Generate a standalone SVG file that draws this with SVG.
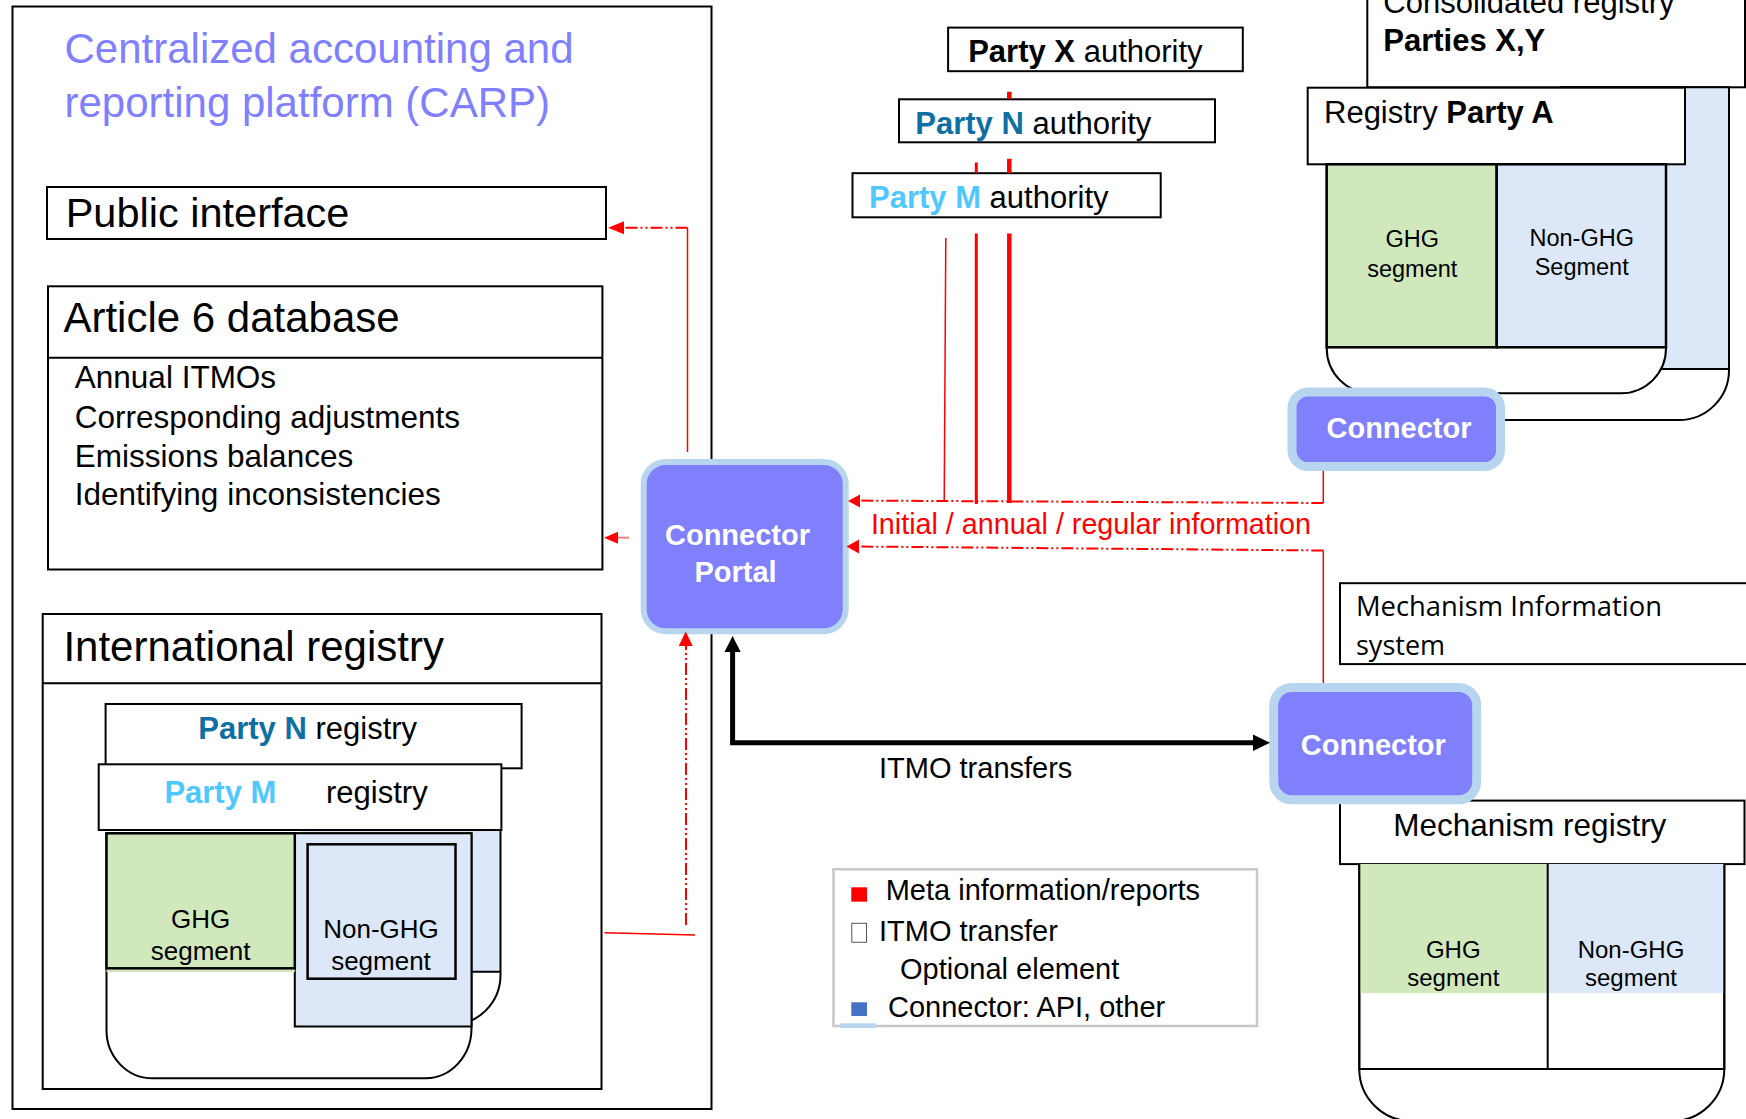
<svg xmlns="http://www.w3.org/2000/svg" width="1746" height="1119" viewBox="0 0 1746 1119">
<defs>
<style>
.box{fill:#fff;stroke:#000;stroke-width:2}
.t{font-family:"Liberation Sans",Arial,sans-serif;fill:#000}
.b{font-weight:bold}
.mid{text-anchor:middle}
.grn{fill:#d1e8bd}
.blu{fill:#dce8f7}
.ln{fill:none;stroke:#000;stroke-width:2}
.conn{fill:#8080fc;stroke:#b8d5f0}
.ct{font-family:"Liberation Sans",Arial,sans-serif;font-weight:bold;fill:#fff;font-size:29px;text-anchor:middle}
.red{stroke:#f00;fill:none}
.dd{stroke-dasharray:12 3 2 3 2 3}
.ah{fill:#f00}
.pn{fill:#0f6fa3;font-weight:bold}
.pm{fill:#50c8ff;font-weight:bold}
</style>
</defs>
<rect width="1746" height="1119" fill="#fff"/>

<g id="carp">
<rect class="box" x="12.5" y="6.5" width="699" height="1102.5"/>
<text class="t" x="64.5" y="63" font-size="42" style="fill:#8080ff">Centralized accounting and</text>
<text class="t" x="64.5" y="116.5" font-size="42" style="fill:#8080ff">reporting platform (CARP)</text>
</g>

<g id="public-interface">
<rect class="box" x="47" y="187" width="559" height="52"/>
<text class="t" x="65.7" y="226.6" font-size="41.5">Public interface</text>
</g>

<g id="article6-database">
<rect class="box" x="48" y="286.3" width="554.4" height="283.2"/>
<line class="ln" x1="48" y1="357.8" x2="602.4" y2="357.8"/>
<text class="t" x="63.4" y="332" font-size="42">Article 6 database</text>
<text class="t" x="74.8" y="388.4" font-size="31.5">Annual ITMOs</text>
<text class="t" x="74.8" y="427.9" font-size="31.5">Corresponding adjustments</text>
<text class="t" x="74.8" y="466.9" font-size="31.5">Emissions balances</text>
<text class="t" x="74.8" y="505" font-size="31.5">Identifying inconsistencies</text>
</g>

<g id="international-registry">
<rect class="box" x="42.7" y="614" width="558.8" height="475"/>
<line class="ln" x1="42.7" y1="683.3" x2="601.5" y2="683.3"/>
<text class="t" x="63.4" y="660.7" font-size="42">International registry</text>
</g>

<g id="party-n-registry">
<rect class="box" x="105.6" y="704" width="416" height="64.3"/>
<text class="t" x="198.3" y="739.3" font-size="31"><tspan class="pn">Party N</tspan> registry</text>
<rect class="blu" x="300" y="830" width="200.5" height="141.7"/>
<path class="ln" d="M500.5,830 V975 A50,50 0 0 1 450.5,1025"/>
<line class="ln" x1="460" y1="971.7" x2="500.5" y2="971.7"/>
</g>

<g id="party-m-registry">
<rect class="box" x="98.7" y="764.3" width="402.7" height="65.7"/>
<text class="t" x="164.4" y="803.3" font-size="31"><tspan class="pm">Party M</tspan></text>
<text class="t" x="326" y="803.3" font-size="31">registry</text>
<path class="box" d="M106.5,833.3 V1030 A46,48 0 0 0 152.5,1078.3 H425.5 A46,50 0 0 0 471.5,1028.3 V833.3 Z"/>
<rect class="blu" x="294.8" y="833.3" width="176.7" height="193.2" stroke="#000" stroke-width="2"/>
<rect x="307.6" y="844.3" width="147.9" height="134.4" fill="none" stroke="#000" stroke-width="2.5"/>
<rect class="grn" x="106.5" y="969" width="188.3" height="3"/>
<rect class="grn" x="106.5" y="833.3" width="188.3" height="135" stroke="#000" stroke-width="2.5"/>
<text class="t mid" x="200.6" y="928.3" font-size="26">GHG</text>
<text class="t mid" x="200.6" y="960" font-size="26">segment</text>
<text class="t mid" x="381" y="938.3" font-size="26">Non-GHG</text>
<text class="t mid" x="381" y="970" font-size="26">segment</text>
</g>

<g id="party-x-authority">
<rect class="box" x="948.1" y="27.6" width="294.7" height="43.6"/>
<text class="t" x="968.2" y="62.4" font-size="31"><tspan class="b">Party X</tspan> authority</text>
</g>
<g id="party-n-authority">
<rect class="box" x="899" y="99.3" width="316" height="43"/>
<text class="t" x="915.3" y="134" font-size="31"><tspan class="pn">Party N</tspan> authority</text>
</g>
<g id="party-m-authority">
<rect class="box" x="852.5" y="173.2" width="308.2" height="44.1"/>
<text class="t" x="869" y="208.3" font-size="31"><tspan class="pm">Party M</tspan> authority</text>
</g>

<g id="consolidated-registry">
<rect class="box" x="1367.3" y="-20" width="377.7" height="107.3"/>
<text class="t" x="1383.3" y="13" font-size="31">Consolidated registry</text>
<text class="t b" x="1383.3" y="50.7" font-size="31">Parties X,Y</text>
<rect class="blu" x="1560" y="87.3" width="169" height="281.7"/>
<path class="ln" d="M1560,87.3 H1729 V370 A50,50 0 0 1 1679,420 H1480"/>
<line class="ln" x1="1640" y1="369" x2="1729" y2="369"/>
</g>

<g id="registry-party-a">
<rect class="box" x="1307.7" y="87.7" width="377.3" height="76.6"/>
<text class="t" x="1324" y="123.3" font-size="31">Registry <tspan class="b">Party A</tspan></text>
<path class="box" d="M1326.7,164.3 V348.3 A45,45 0 0 0 1371.7,393.3 H1621 A45,45 0 0 0 1666,348.3 V164.3 Z"/>
<rect class="grn" x="1326.7" y="164.3" width="170" height="183" stroke="#000" stroke-width="2.5"/>
<rect class="blu" x="1496.7" y="164.3" width="169.3" height="183" stroke="#000" stroke-width="2.5"/>
<text class="t mid" x="1412.3" y="246.7" font-size="23.5">GHG</text>
<text class="t mid" x="1412.3" y="276.7" font-size="23.5">segment</text>
<text class="t mid" x="1581.7" y="246" font-size="23.5">Non-GHG</text>
<text class="t mid" x="1581.7" y="275" font-size="23.5">Segment</text>
</g>

<g id="mechanism-information-system">
<rect class="box" x="1340" y="583.2" width="420" height="80.9"/>
<text x="1356" y="616" font-size="27" font-family="'Open Sans','Noto Sans',sans-serif" textLength="306" lengthAdjust="spacingAndGlyphs">Mechanism Information</text>
<text x="1356" y="654.5" font-size="27" font-family="'Open Sans','Noto Sans',sans-serif">system</text>
</g>

<g id="mechanism-registry">
<rect class="box" x="1340" y="800.6" width="404.5" height="63.5"/>
<text class="t" x="1393.3" y="836.3" font-size="31.5">Mechanism registry</text>
<path class="box" d="M1359.3,864 V1069 A52,52 0 0 0 1411.3,1121 H1672.3 A52,52 0 0 0 1724.3,1069 V864"/>
<rect class="grn" x="1359.3" y="864" width="188.4" height="129.2"/>
<rect class="blu" x="1547.7" y="864" width="176.6" height="129.2"/>
<path class="ln" d="M1359.3,864 V1069 H1724.3 V864 M1547.7,864 V1069" stroke-width="2.5"/>
<text class="t mid" x="1453.3" y="957.5" font-size="24">GHG</text>
<text class="t mid" x="1453.3" y="986" font-size="24">segment</text>
<text class="t mid" x="1631" y="957.5" font-size="24">Non-GHG</text>
<text class="t mid" x="1631" y="986" font-size="24">segment</text>
</g>

<g id="connector-portal">
<rect class="conn" x="643.7" y="462" width="202" height="169.3" rx="22" stroke-width="6"/>
<text class="ct" x="737.5" y="545">Connector</text>
<text class="ct" x="735.5" y="581.7">Portal</text>
</g>

<g id="connector-party">
<rect class="conn" x="1292" y="392" width="208.5" height="74.5" rx="16" stroke-width="9"/>
<text class="ct" x="1399" y="437.7">Connector</text>
</g>

<g id="connector-mechanism">
<rect class="conn" x="1273.7" y="687.5" width="203" height="112.3" rx="18" stroke-width="9"/>
<text class="ct" x="1373.3" y="755.4">Connector</text>
</g>

<g id="legend">
<rect x="833.5" y="869.3" width="423.5" height="156.7" fill="#fff" stroke="#c8c8c8" stroke-width="2.5"/>
<rect x="851.3" y="887.3" width="15.7" height="14.4" fill="#f00"/>
<text class="t" x="885.7" y="900" font-size="29">Meta information/reports</text>
<rect x="851.8" y="923.3" width="14.7" height="19" fill="#fff" stroke="#555" stroke-width="1"/>
<text class="t" x="879" y="940.7" font-size="29">ITMO transfer</text>
<text class="t" x="900" y="979.3" font-size="29">Optional element</text>
<rect x="851.3" y="1002.3" width="15.7" height="13.7" fill="#4472c4"/>
<text class="t" x="888" y="1016.7" font-size="29">Connector: API, other</text>
<rect x="839.7" y="1023.3" width="36.2" height="4.7" fill="#b8d5f0"/>
</g>

<g id="connectors">
<path class="red" stroke-width="1.5" d="M687.5,452 V227.7"/>
<path class="red dd" stroke-width="2" d="M687.5,227.7 H620"/>
<polygon class="ah" points="624,221.2 608,227.7 624,234.2"/>
<path stroke="#ff8080" stroke-width="2" fill="none" d="M629,537.7 H614"/>
<polygon class="ah" points="618,531.7 604,537.7 618,543.7"/>
<path class="red" stroke-width="1.5" d="M604.5,932.7 L695,935"/>
<path class="red dd" stroke-width="2" d="M686,925 V644"/>
<polygon class="ah" points="678.7,646 685.7,631.5 692.7,646"/>
<path class="red" stroke-width="1.5" d="M1323.3,471 V503"/>
<path class="red dd" stroke-width="2" d="M1323.3,503 L858,500.6"/>
<polygon class="ah" points="860,494.5 848,501 860,507.5"/>
<path class="red" stroke-width="1.5" d="M1323.3,683 V550.5"/>
<path class="red dd" stroke-width="2" d="M1323.3,550.5 L857,546.5"/>
<polygon class="ah" points="859,539.5 846.5,546.5 859,553.5"/>
<path class="red" stroke-width="1.5" d="M945.8,238 L944.2,500.5"/>
<path class="red" stroke-width="3" d="M976.3,162.6 V173 M976.3,233.4 V504"/>
<path class="red" stroke-width="4.5" d="M1009.3,91.8 V99 M1009.3,158.8 V173 M1009.3,233.4 V503"/>
<path fill="none" stroke="#000" stroke-width="5" d="M732.6,650 V742.7 H1255"/>
<polygon points="724.5,652 732.6,636 740.7,652" fill="#000"/>
<polygon points="1253,734.5 1270,742.7 1253,751" fill="#000"/>
<text class="t" x="870.9" y="533.9" font-size="28.7" style="fill:#f00">Initial / annual / regular information</text>
<text class="t" x="879" y="778.3" font-size="29">ITMO transfers</text>
</g>
</svg>
